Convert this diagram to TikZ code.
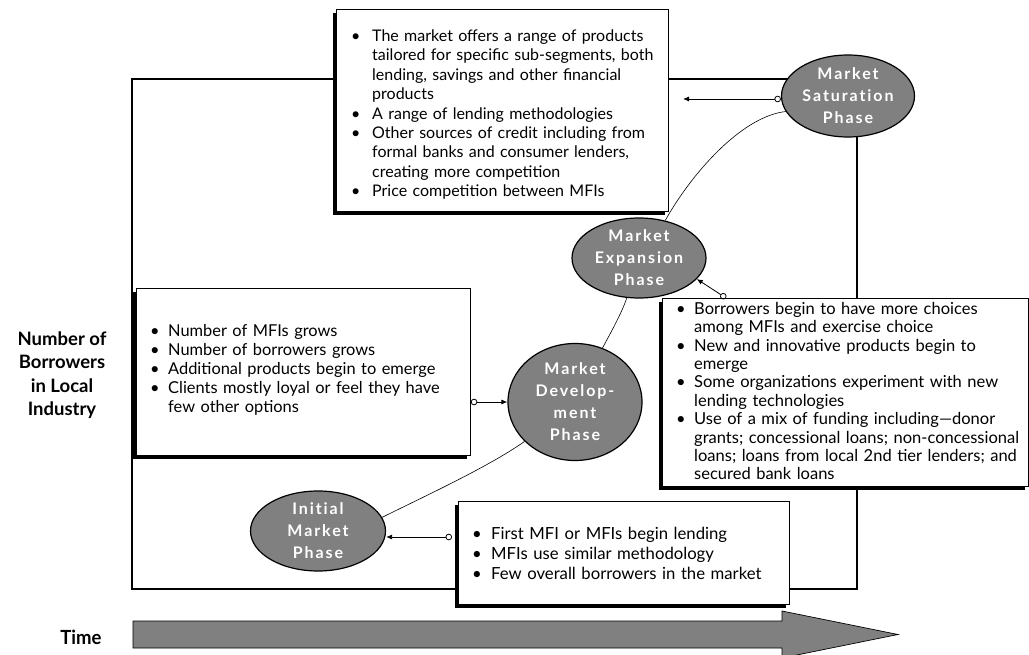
\documentclass[tikz,border=0pt]{standalone}
\usepackage{fontspec}
\setmainfont{Lato}
\newfontfamily\phasefont[LetterSpace=12,Ligatures={NoCommon,NoRare}]{Lato}
\newfontfamily\timefont[FakeStretch=0.95]{Lato}
\usetikzlibrary{shapes.geometric,arrows.meta,shadows}
\definecolor{phasegray}{RGB}{128,128,128}

% bullet lines: \B starts an item, \C continues it
\newlength\bulx \newlength\txtx
\newcommand\B{\hspace*{\bulx}\makebox[\dimexpr\txtx-\bulx\relax][l]{\textbullet}}
\newcommand\C{\hspace*{\txtx}}

\tikzset{
  panel/.style={draw=black, line width=0.8pt, fill=white, inner sep=0pt,
    anchor=north west,
    general shadow={fill=black, shadow xshift=-3.5pt, shadow yshift=-3.5pt}},
  paneltext/.style 2 args={anchor=west, inner sep=0pt, align=left,
    font=\fontsize{#1}{#2}\selectfont},
  phase/.style={ellipse, draw=black, line width=1.2pt, fill=phasegray,
    text=white, inner sep=0pt, align=center,
    font=\phasefont\bfseries\fontsize{16}{22}\selectfont},
  conn/.style={line width=0.8pt,
    {Circle[open,length=6.5pt,width=6.5pt,line width=0.8pt]}-{Latex[length=6pt,width=5pt]}},
  growth/.style={line width=0.6pt},
  stageframe/.style={line width=1.3pt},
}

\begin{document}
\begin{tikzpicture}[x=1pt,y=-1pt]
\useasboundingbox (0,0) rectangle (1029,655);

% stage frame
\draw[stageframe] (132,79) rectangle (857,589);

% axis labels
\node[align=center, font=\bfseries\fontsize{18.5}{23.5}\selectfont] (ylabel) at (62,375)
  {Number of\\Borrowers\\in Local\\Industry};
\node[font=\timefont\bfseries\fontsize{19.5}{22}\selectfont] (timelabel) at (81,637) {Time};

% time arrow
\draw[line width=0.7pt, fill=phasegray] (133,621) -- (782,621) -- (782,611)
  -- (898,634.5) -- (782,658) -- (782,648) -- (133,648) -- cycle;

% description panels
\node[panel, minimum width=332pt, minimum height=202pt] (topbox) at (336,9) {};
\node[paneltext={16}{19.4}, text width=332pt] (toptxt) at (336,114.5)
  {\setlength\bulx{15pt}\setlength\txtx{36pt}%
   \B The market offers a range of products\\
   \C tailored for specific sub-segments, both\\
   \C lending, savings and other financial\\
   \C products\\
   \B A range of lending methodologies\\
   \B Other sources of credit including from\\
   \C formal banks and consumer lenders,\\
   \C creating more competition\\
   \B Price competition between MFIs};

\node[panel, minimum width=334pt, minimum height=167pt] (lbox) at (136,288) {};
\node[paneltext={16.4}{19}, text width=334pt] (ltxt) at (136,370)
  {\setlength\bulx{14pt}\setlength\txtx{32pt}%
   \B Number of MFIs grows\\
   \B Number of borrowers grows\\
   \B Additional products begin to emerge\\
   \B Clients mostly loyal or feel they have\\
   \C few other options};

\node[panel, minimum width=366pt, minimum height=188pt] (rbox) at (662,298) {};
\node[paneltext={16.5}{18.4}, text width=366pt] (rtxt) at (662,391)
  {\setlength\bulx{14pt}\setlength\txtx{32pt}%
   \B Borrowers begin to have more choices\\
   \C among MFIs and exercise choice\\
   \B New and innovative products begin to\\
   \C emerge\\
   \B Some organizations experiment with new\\
   \C lending technologies\\
   \B Use of a mix of funding including---donor\\
   \C grants; concessional loans; non-concessional\\
   \C loans; loans from local 2nd tier lenders; and\\
   \C secured bank loans};

\node[panel, minimum width=331pt, minimum height=103pt] (bbox) at (458,501) {};
\node[paneltext={16.7}{20}, text width=331pt] (btxt) at (458,553)
  {\setlength\bulx{14pt}\setlength\txtx{33pt}%
   \B First MFI or MFIs begin lending\\
   \B MFIs use similar methodology\\
   \B Few overall borrowers in the market};

% phases
\node[phase, minimum width=133pt, minimum height=82pt] (sat) at (848,96)
  {Market\\Saturation\\Phase};
\node[phase, minimum width=134pt, minimum height=80pt] (exp) at (639,258)
  {Market\\Expansion\\Phase};
\node[phase, minimum width=134pt, minimum height=117pt] (dev) at (575,402)
  {Market\\Develop-\\ment\\Phase};
\node[phase, minimum width=135pt, minimum height=80pt] (init) at (318,531)
  {Initial\\Market\\Phase};

% growth curve
\draw[growth] (init.12) .. controls +(40,-20) and +(-35,25) .. (dev.218);
\draw[growth] (dev.63) .. controls +(8,-15) and +(-5,15) .. (exp.253);
\draw[growth] (exp.55) .. controls +(25,-45) and +(-45,5) .. (sat.194);

% panel pointers
\coordinate (toptip) at (683,99);
\coordinate (bottail) at (452,537);
\coordinate (rtail) at (726,298);
\draw[conn] ([yshift=-3pt]sat.west) -- ([yshift=-3pt]sat.west -| toptip);
\draw[conn] (rtail) -- (exp.-20);
\draw[conn] (lbox.east |- dev.west) -- (dev.west);
\draw[conn] (bottail) -- (init.east |- bottail);
\end{tikzpicture}
\end{document}
